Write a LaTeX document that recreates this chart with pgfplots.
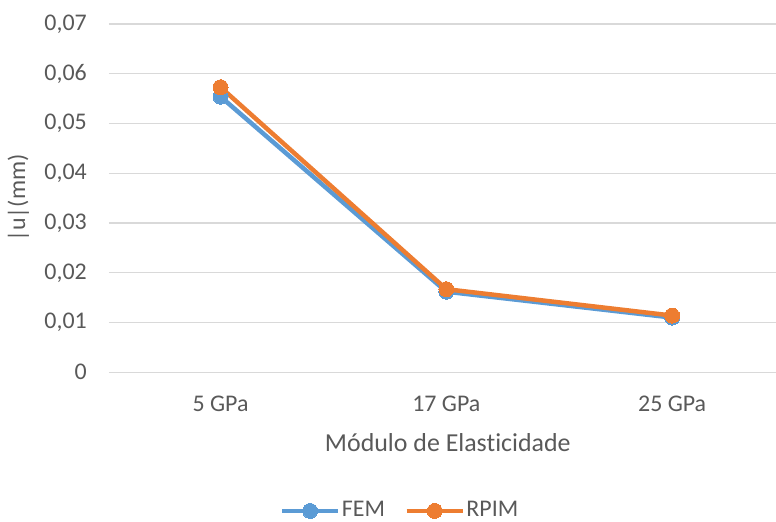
\documentclass[border=0pt]{standalone}
\usepackage{pgfplots}
\pgfplotsset{compat=1.18}
\usepackage{fontspec}
\setmainfont{Carlito}[Ligatures=NoCommon]
\definecolor{femblue}{HTML}{5B9BD5}
\definecolor{rpimorange}{HTML}{ED7D31}
\definecolor{gridgray}{HTML}{D9D9D9}
\definecolor{labelgray}{HTML}{595959}
\begin{document}
\fontsize{24}{28}\selectfont
\begin{tikzpicture}
\begin{axis}[
  at={(0,0)}, anchor=south west,
  scale only axis,
  width=667bp, height=348.3bp,
  xmin=-0.494, xmax=2.46,
  ymin=0, ymax=0.07,
  scaled y ticks=false,
  axis line style={draw=none},
  tick style={draw=none},
  xtick={0,1,2},
  xticklabels={5 GPa,17 GPa,25 GPa},
  ytick={0,0.01,0.02,0.03,0.04,0.05,0.06,0.07},
  yticklabels={0,{0,01},{0,02},{0,03},{0,04},{0,05},{0,06},{0,07}},
  ymajorgrids,
  grid style={gridgray, line width=1.1bp},
  yticklabel style={anchor=east, inner sep=0pt, xshift=-22bp, text=labelgray},
  xticklabel style={anchor=base, inner sep=0pt, yshift=-39bp, text=labelgray},
  xlabel={Módulo de Elasticidade},
  xlabel style={at={(axis description cs:0.508,0)}, anchor=base, inner sep=0pt, yshift=-79bp,
    text=labelgray, font=\fontsize{26}{30}\selectfont},
  ylabel={|u|(mm)},
  ylabel style={at={(axis description cs:-0.136,0.5)}, anchor=center, inner sep=0pt, text=labelgray},
  legend columns=2,
  legend style={at={(axis description cs:0.436,-0.398)}, anchor=center, draw=none, fill=none,
    inner sep=0pt, text=labelgray,
    /tikz/every even column/.append style={column sep=18bp},
    nodes={inner xsep=1.5bp, inner ysep=0pt}},
  legend image code/.code={
    \draw[#1, mark repeat=2, mark phase=2] plot coordinates {(0bp,0bp) (28bp,0bp) (56bp,0bp)};
  },
]
\addplot[femblue, line width=4.5bp, mark=*, mark size=7.5bp, mark options={line width=0pt}]
  coordinates {(0,0.0554) (1,0.0162) (2,0.0110)};
\addlegendentry{FEM}
\addplot[rpimorange, line width=4.5bp, mark=*, mark size=7.5bp, mark options={line width=0pt}]
  coordinates {(0,0.0573) (1,0.0167) (2,0.0114)};
\addlegendentry{RPIM}
\end{axis}
\pgfresetboundingbox
\path (-109bp,-149.7bp) rectangle (667bp,372.3bp);
\end{tikzpicture}
\end{document}
